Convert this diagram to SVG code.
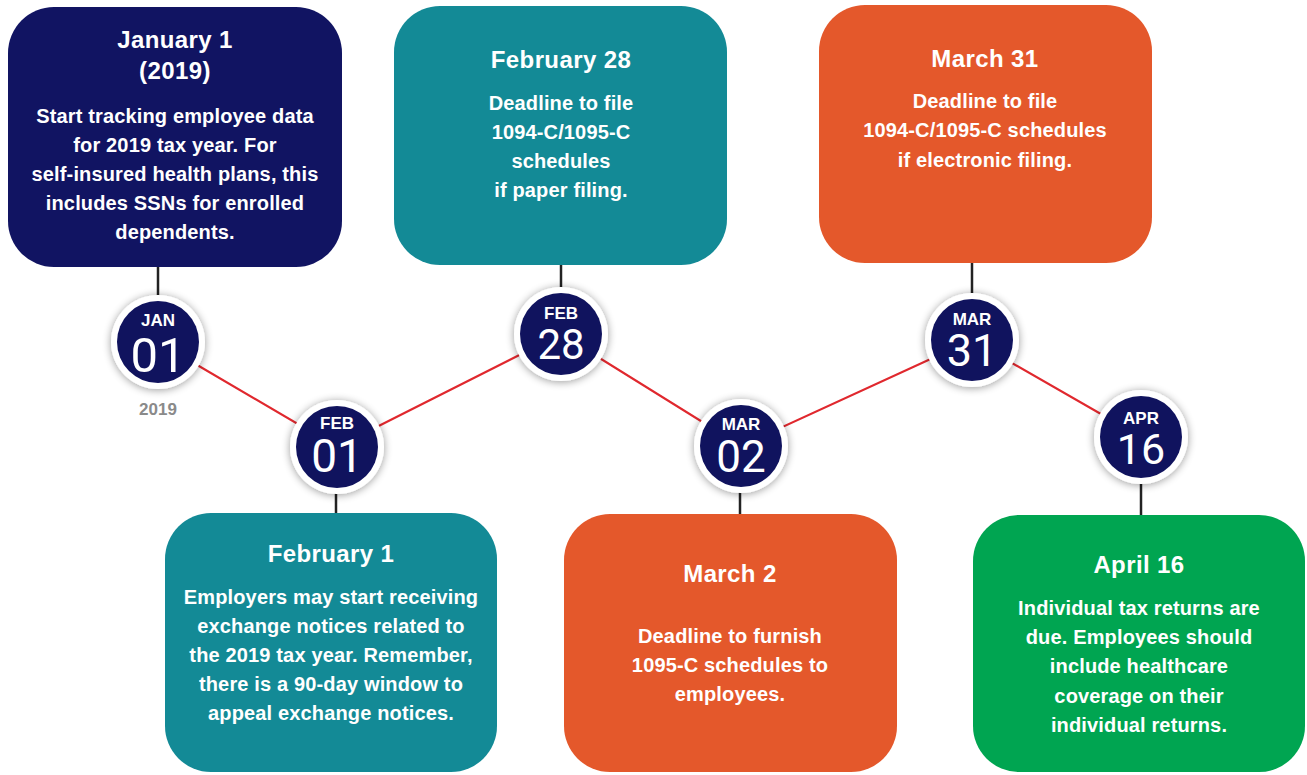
<svg xmlns="http://www.w3.org/2000/svg" width="1307" height="775" viewBox="0 0 1307 775">
  <style>
    .box-navy { fill: #111462; }
    .box-teal { fill: #138a96; }
    .box-orange { fill: #e4582b; }
    .box-green { fill: #00a551; }
    .title { font-family: "Liberation Sans", Arial, sans-serif; font-weight: bold; font-size: 24px; letter-spacing: 0.4px; fill: #ffffff; text-anchor: middle; }
    .body { font-family: "Liberation Sans", Arial, sans-serif; font-weight: bold; font-size: 20px; letter-spacing: 0.15px; fill: #ffffff; text-anchor: middle; }
    .month { font-family: "Liberation Sans", Arial, sans-serif; font-weight: bold; font-size: 17px; fill: #ffffff; text-anchor: middle; }
    .day { font-family: Roboto, "Liberation Sans", sans-serif; font-weight: 400; font-size: 44px; fill: #ffffff; text-anchor: middle; }
    .year { font-family: "Liberation Sans", Arial, sans-serif; font-weight: bold; font-size: 17px; fill: #8a8a8a; text-anchor: middle; }
    .ring { fill: #ffffff; filter: url(#shadow); }
    .disc { fill: #10135e; }
    .stem { stroke: #222222; stroke-width: 2.5; fill: none; }
    .zigzag { stroke: #e0282e; stroke-width: 2.2; fill: none; }
  </style>
  <defs>
    <filter id="shadow" x="-30%" y="-30%" width="160%" height="160%">
      <feGaussianBlur in="SourceAlpha" stdDeviation="4"/>
      <feOffset dx="0" dy="1" result="blur"/>
      <feComponentTransfer><feFuncA type="linear" slope="0.4"/></feComponentTransfer>
      <feMerge><feMergeNode/><feMergeNode in="SourceGraphic"/></feMerge>
    </filter>
  </defs>

  <!-- connectors: zigzag timeline and vertical stems -->
  <g id="connectors">
    <polyline class="zigzag" points="158,342 337,447 561,334 741,446 972,340 1141,437"/>
    <line class="stem" x1="158" y1="266" x2="158" y2="300"/>
    <line class="stem" x1="561" y1="264" x2="561" y2="290"/>
    <line class="stem" x1="972" y1="262" x2="972" y2="295"/>
    <line class="stem" x1="336" y1="490" x2="336" y2="514"/>
    <line class="stem" x1="740" y1="490" x2="740" y2="515"/>
    <line class="stem" x1="1141" y1="480" x2="1141" y2="516"/>
  </g>

  <!-- event cards -->
  <g id="card-jan01">
    <rect class="box-navy" x="8" y="7" width="334" height="260" rx="46"/>
    <text class="title" x="175" y="48">January 1</text>
    <text class="title" x="175" y="79">(2019)</text>
    <text class="body" x="175" y="123">Start tracking employee data</text>
    <text class="body" x="175" y="152">for 2019 tax year. For</text>
    <text class="body" x="175" y="181">self-insured health plans, this</text>
    <text class="body" x="175" y="210">includes SSNs for enrolled</text>
    <text class="body" x="175" y="239">dependents.</text>
  </g>

  <g id="card-feb28">
    <rect class="box-teal" x="394" y="6" width="333" height="259" rx="46"/>
    <text class="title" x="561" y="68">February 28</text>
    <text class="body" x="561" y="110">Deadline to file</text>
    <text class="body" x="561" y="139">1094-C/1095-C</text>
    <text class="body" x="561" y="168">schedules</text>
    <text class="body" x="561" y="197">if paper filing.</text>
  </g>

  <g id="card-mar31">
    <rect class="box-orange" x="819" y="5" width="333" height="258" rx="46"/>
    <text class="title" x="985" y="67">March 31</text>
    <text class="body" x="985" y="108">Deadline to file</text>
    <text class="body" x="985" y="137">1094-C/1095-C schedules</text>
    <text class="body" x="985" y="167">if electronic filing.</text>
  </g>

  <g id="card-feb01">
    <rect class="box-teal" x="165" y="513" width="332" height="259" rx="46"/>
    <text class="title" x="331" y="562">February 1</text>
    <text class="body" x="331" y="604">Employers may start receiving</text>
    <text class="body" x="331" y="633">exchange notices related to</text>
    <text class="body" x="331" y="662">the 2019 tax year. Remember,</text>
    <text class="body" x="331" y="691">there is a 90-day window to</text>
    <text class="body" x="331" y="720">appeal exchange notices.</text>
  </g>

  <g id="card-mar02">
    <rect class="box-orange" x="564" y="514" width="333" height="258" rx="46"/>
    <text class="title" x="730" y="582">March 2</text>
    <text class="body" x="730" y="643">Deadline to furnish</text>
    <text class="body" x="730" y="672">1095-C schedules to</text>
    <text class="body" x="730" y="701">employees.</text>
  </g>

  <g id="card-apr16">
    <rect class="box-green" x="973" y="515" width="332" height="257" rx="46"/>
    <text class="title" x="1139" y="573">April 16</text>
    <text class="body" x="1139" y="615">Individual tax returns are</text>
    <text class="body" x="1139" y="644">due. Employees should</text>
    <text class="body" x="1139" y="673">include healthcare</text>
    <text class="body" x="1139" y="703">coverage on their</text>
    <text class="body" x="1139" y="732">individual returns.</text>
  </g>

  <!-- date badges -->
  <g id="badge-jan01">
    <circle class="ring" cx="158" cy="342" r="47"/>
    <circle class="disc" cx="158" cy="342" r="41"/>
    <text class="month" x="158" y="326">JAN</text>
    <text class="day" x="158" y="372" style="font-size:49px">01</text>
    <text class="year" x="158" y="415">2019</text>
  </g>

  <g id="badge-feb01">
    <circle class="ring" cx="337" cy="447" r="47"/>
    <circle class="disc" cx="337" cy="447" r="41"/>
    <text class="month" x="337" y="429">FEB</text>
    <text class="day" x="337" y="472" style="font-size:46px">01</text>
  </g>

  <g id="badge-feb28">
    <circle class="ring" cx="561" cy="334" r="47"/>
    <circle class="disc" cx="561" cy="334" r="41"/>
    <text class="month" x="561" y="319">FEB</text>
    <text class="day" x="561" y="359" style="font-size:42px">28</text>
  </g>

  <g id="badge-mar02">
    <circle class="ring" cx="741" cy="446" r="47"/>
    <circle class="disc" cx="741" cy="446" r="41"/>
    <text class="month" x="741" y="430">MAR</text>
    <text class="day" x="741" y="472">02</text>
  </g>

  <g id="badge-mar31">
    <circle class="ring" cx="972" cy="340" r="47"/>
    <circle class="disc" cx="972" cy="340" r="41"/>
    <text class="month" x="972" y="325">MAR</text>
    <text class="day" x="972" y="366" style="font-size:45px">31</text>
  </g>

  <g id="badge-apr16">
    <circle class="ring" cx="1141" cy="437" r="47"/>
    <circle class="disc" cx="1141" cy="437" r="41"/>
    <text class="month" x="1141" y="424">APR</text>
    <text class="day" x="1141" y="464" style="font-size:43px">16</text>
  </g>
</svg>
